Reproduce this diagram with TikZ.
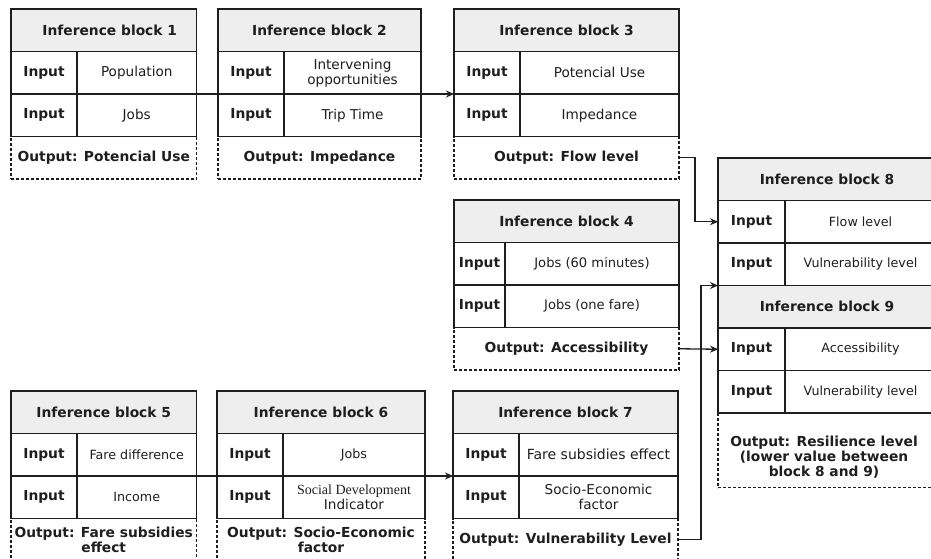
\documentclass[tikz,border=0pt]{standalone}
\usepackage{fontspec}
\setmainfont{DejaVu Sans}
\newfontfamily\serifface{Liberation Serif}
\usetikzlibrary{arrows.meta}
\definecolor{hdrgray}{HTML}{EEEEEE}
\definecolor{ink}{HTML}{1E1E1E}
\tikzset{
  cell/.style={draw=ink, line width=1.3pt, inner sep=1pt, outer sep=0pt,
    anchor=north west, align=center, text=ink},
  hdrcell/.style={cell, fill=hdrgray, font=\fontsize{13.8}{15}\selectfont\bfseries},
  lblcell/.style={cell, font=\fontsize{13.8}{15}\selectfont\bfseries},
  valcell/.style={cell, font=\fontsize{13.6}{15}\selectfont},
  outcell/.style={cell, dash pattern=on 3pt off 2pt,
    font=\fontsize{13.8}{15.5}\selectfont\bfseries},
  outtext/.style={inner sep=0pt, align=center, text=ink,
    font=\fontsize{13.8}{15}\selectfont\bfseries},
  link/.style={draw=ink, line width=1.3pt, -{Stealth[length=8pt,width=7pt]}},
}
% name, x, y, width, divider, header, value 1, value 2
\newcommand\blockrows[8]{%
  \node[hdrcell, minimum width=#4pt, minimum height=42.5pt] (#1h) at (#2,#3) {#6};
  \node[lblcell, minimum width=#5pt, minimum height=42.5pt] (#1l1) at (#2,#3+42.5) {Input};
  \node[valcell, minimum width=#4pt-#5pt, minimum height=42.5pt] (#1v1) at (#2+#5,#3+42.5) {#7};
  \node[lblcell, minimum width=#5pt, minimum height=42.5pt] (#1l2) at (#2,#3+85) {Input};
  \node[valcell, minimum width=#4pt-#5pt, minimum height=42.5pt] (#1v2) at (#2+#5,#3+85) {#8};
}
\newcommand\smalltxt{\fontsize{12.7}{14}\selectfont}
\begin{document}
\begin{tikzpicture}[x=1pt,y=-1pt]
\useasboundingbox (0,0) rectangle (931,558);
\clip (0,0) rectangle (931,558);

% Block 1
\blockrows{b1}{11}{9}{185.5}{66}{\hspace*{12pt}Inference block 1}{Population}{Jobs}
\node[outcell, minimum width=185.5pt, minimum height=42.5pt] (b1o) at (11,136.5) {Output: Potencial Use};
% Block 2
\blockrows{b2}{218}{9}{203}{66}{Inference block 2}{Intervening\\opportunities}{Trip Time}
\node[outcell, minimum width=203pt, minimum height=42.5pt] (b2o) at (218,136.5) {Output: Impedance};
% Block 3
\blockrows{b3}{454}{9}{225}{66}{Inference block 3}{Potencial Use}{Impedance}
\node[outcell, minimum width=225pt, minimum height=42.5pt] (b3o) at (454,136.5) {Output: Flow level};
% Block 4
\blockrows{b4}{454}{200}{225}{51}{Inference block 4}{\fontsize{13.1}{15}\selectfont Jobs (60 minutes)}{\fontsize{13.1}{15}\selectfont Jobs (one fare)}
\node[outcell, minimum width=225pt, minimum height=42.5pt] (b4o) at (454,327.5) {Output: Accessibility};
% Block 5
\blockrows{b5}{11}{391}{185.5}{66}{Inference block 5}{\smalltxt Fare difference}{\smalltxt Income}
\node[outcell, minimum width=185.5pt, minimum height=42.5pt] (b5o) at (11,518.5) {Output: Fare subsidies\\effect};
% Block 6
\blockrows{b6}{217}{391}{208}{66}{Inference block 6}{\smalltxt Jobs}{\serifface\fontsize{14}{17}\selectfont Social Development\\Indicator}
\node[outcell, minimum width=208pt, minimum height=42.5pt] (b6o) at (217,518.5) {Output: Socio-Economic\\factor};
% Block 7
\blockrows{b7}{453}{391}{225}{66}{Inference block 7}{\fontsize{14}{15}\selectfont Fare subsidies effect}{Socio-Economic\\factor}
\node[outcell, minimum width=225pt, minimum height=42.5pt] (b7o) at (453,518.5) {Output: Vulnerability Level};
% Block 8
\blockrows{b8}{718}{158}{218}{67}{Inference block 8}{\smalltxt Flow level}{\smalltxt Vulnerability level}
% Block 9
\blockrows{b9}{718}{285.5}{218}{67}{Inference block 9}{\smalltxt Accessibility}{\smalltxt Vulnerability level}
\node[outcell, minimum width=218pt, minimum height=74.5pt] (b9o) at (718,413) {};
\node[outtext] (b9ot) at ([xshift=-3pt,yshift=-7pt]b9o.center) {Output: Resilience level\\(lower value between\\block 8 and 9)};

% Connectors
\draw[link] (b1v2.north east) -- (b3l2.north west);
\draw[link] (b5v2.north east) -- (b7l2.north west);
\draw[link] (b3o.east) -- ++(16,0) |- (b8l1.west);
\draw[link] (b4o.east) -- (b9l1.west);
\draw[link] (b7o.east) -- ++(23,0) |- (b8l2.south west);
\end{tikzpicture}
\end{document}
